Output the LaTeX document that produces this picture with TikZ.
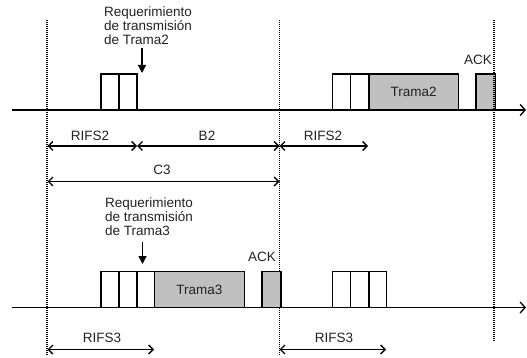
\documentclass[tikz,border=0pt]{standalone}
\usepackage{fontspec}
\setmainfont{Liberation Sans}
\usetikzlibrary{arrows.meta}
\definecolor{framegray}{HTML}{C0C0C0}
\definecolor{txt}{HTML}{222222}
\tikzset{
  slot/.style={draw=black, line width=1.4pt, fill=white, inner sep=0pt, outer sep=0pt, minimum height=36pt, anchor=south west},
  frame/.style={slot, fill=framegray},
  axis/.style={line width=1.3pt, -{Straight Barb[length=5pt,width=11pt]}},
  guide/.style={line width=1.4pt, dash pattern=on 1pt off 1pt},
  dim/.style={line width=1.3pt, {Straight Barb[length=4.5pt,width=9pt]}-{Straight Barb[length=4.5pt,width=9pt]}},
  req/.style={line width=1.3pt, -{Triangle[length=8pt,width=8pt]}},
  lbl/.style={text=txt, font=\fontsize{13.5}{14}\selectfont, inner sep=0pt},
  note/.style={lbl, align=left, anchor=north west}
}
\begin{document}
\begin{tikzpicture}[x=1pt,y=-1pt]
\useasboundingbox (0,0) rectangle (527,358);
% guides
\coordinate (g1t) at (47,20); \coordinate (g1b) at (47,356);
\coordinate (g2t) at (279.5,20); \coordinate (g2b) at (279.5,356);
\coordinate (g3t) at (494,20); \coordinate (g3b) at (494,342);
\draw[guide] (g1t) -- (g1b);
\draw[guide] (g2t) -- (g2b);
% axes
\coordinate (a1s) at (12,110); \coordinate (a1e) at (526,110);
\coordinate (a2s) at (12,307.5); \coordinate (a2e) at (526,307.5);
% top row
\node[slot, minimum width=18pt] (t1) at (101,110) {};
\node[slot, minimum width=18pt] (t2) at (119,110) {};
\node[slot, minimum width=18pt] (t3) at (332.7,110) {};
\node[slot, minimum width=18.3pt] (t4) at (350.7,110) {};
\node[frame, minimum width=89.3pt] (t5) at (369,110) {};
\node[lbl] at (t5.center) {Trama2};
\node[frame, minimum width=19.5pt] (t6) at (476,110) {};
\node[lbl] (ack1) at (478,60) {ACK};
% bottom row
\node[slot, minimum width=18pt] (b1) at (101,307.5) {};
\node[slot, minimum width=18pt] (b2) at (119,307.5) {};
\node[slot, minimum width=17.7pt] (b3) at (137,307.5) {};
\node[frame, minimum width=89.6pt] (b4) at (154.7,307.5) {};
\node[lbl] at (b4.center) {Trama3};
\node[frame, minimum width=19pt] (b5) at (262,307.5) {};
\node[lbl] (ack2) at (262,256.5) {ACK};
\node[slot, minimum width=18pt] (b6) at (332.7,307.5) {};
\node[slot, minimum width=18.3pt] (b7) at (350.7,307.5) {};
\node[slot, minimum width=17.7pt] (b8) at (369,307.5) {};
\draw[guide] (g3t) -- (g3b);
\draw[axis] (a1s) -- (a1e);
\draw[axis] (a2s) -- (a2e);
% requests
\node[note] (r2) at (104,7) {Requerimiento\\de transmisión\\de Trama2};
\coordinate (r2a) at (142,48); \coordinate (r2b) at (142,73);
\draw[req] (r2a) -- (r2b);
\node[note] (r3) at (105,198) {Requerimiento\\de transmisión\\de Trama3};
\coordinate (r3a) at (142.5,242); \coordinate (r3b) at (142.5,264);
\draw[req] (r3a) -- (r3b);
% dimensions
\coordinate (d1) at (47.5,146); \coordinate (d2) at (137,146);
\coordinate (d3) at (279.5,146); \coordinate (d4) at (368,146);
\draw[dim] (d1) -- (d2); \draw[dim] (d2) -- (d3); \draw[dim] (d3) -- (d4);
\node[lbl] at (90,136) {RIFS2};
\node[lbl] at (207,136) {B2};
\node[lbl] at (323,136) {RIFS2};
\coordinate (c1) at (47.5,181.5); \coordinate (c2) at (279.5,181.5);
\draw[dim] (c1) -- (c2);
\node[lbl] at (162,170) {C3};
\coordinate (e1) at (47.5,349.5); \coordinate (e2) at (154,349.5);
\coordinate (e3) at (279.5,349.5); \coordinate (e4) at (386,349.5);
\draw[dim] (e1) -- (e2); \draw[dim] (e3) -- (e4);
\node[lbl] at (102,338) {RIFS3};
\node[lbl] at (334,338) {RIFS3};
\end{tikzpicture}
\end{document}
